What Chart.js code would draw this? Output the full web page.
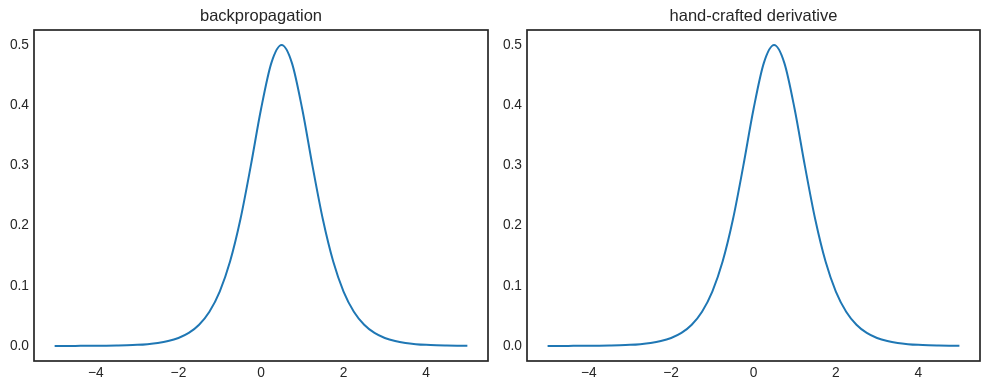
<!DOCTYPE html>
<html lang="en">
<head>
<meta charset="utf-8">
<title>backpropagation vs hand-crafted derivative</title>
<script src="https://cdn.jsdelivr.net/npm/chart.js@4.4.0/dist/chart.umd.min.js"></script>
<style>
  html, body { margin: 0; padding: 0; background: #fff; }
  #wrap { position: relative; width: 989px; height: 390px; }
  canvas { position: absolute; top: 0; }
  #left { left: 0; }
  #right { left: 494px; }
</style>
</head>
<body>
<div id="wrap">
  <canvas id="left" width="494" height="390"></canvas>
  <canvas id="right" width="495" height="390"></canvas>
</div>
<script>
  // x positions the curve was read at
  var xValues = [-5, -4.75, -4.5, -4.25, -4, -3.75, -3.5, -3.25, -3, -2.75,
    -2.5, -2.25, -2, -1.75, -1.5, -1.25, -1, -0.75, -0.5, -0.25,
    0, 0.25, 0.5, 0.75, 1, 1.25, 1.5, 1.75, 2, 2.25,
    2.5, 2.75, 3, 3.25, 3.5, 3.75, 4, 4.25, 4.5, 4.75, 5];

  var backpropValues = [0.0000, 0.0001, 0.0001, 0.0002, 0.0002, 0.0004, 0.0007, 0.0011, 0.0018, 0.0030,
    0.0049, 0.0081, 0.0133, 0.0217, 0.0353, 0.0569, 0.0904, 0.1402, 0.2100, 0.2983,
    0.3932, 0.4700, 0.5000, 0.4700, 0.3932, 0.2983, 0.2100, 0.1402, 0.0904, 0.0569,
    0.0353, 0.0217, 0.0133, 0.0081, 0.0049, 0.0030, 0.0018, 0.0011, 0.0007, 0.0004, 0.0002];

  // (looks identical)
  var handcraftedValues = [0.0000, 0.0001, 0.0001, 0.0002, 0.0002, 0.0004, 0.0007, 0.0011, 0.0018, 0.0030,
    0.0049, 0.0081, 0.0133, 0.0217, 0.0353, 0.0569, 0.0904, 0.1402, 0.2100, 0.2983,
    0.3932, 0.4700, 0.5000, 0.4700, 0.3932, 0.2983, 0.2100, 0.1402, 0.0904, 0.0569,
    0.0353, 0.0217, 0.0133, 0.0081, 0.0049, 0.0030, 0.0018, 0.0011, 0.0007, 0.0004, 0.0002];

  var xTicks = [-4, -2, 0, 2, 4];
  var yTicks = [0.0, 0.1, 0.2, 0.3, 0.4, 0.5];

  var textColor = '#262626';
  var fontFamily = '"Liberation Sans", Arial, sans-serif';

  // title + box around the plot, matplotlib style
  var framePlugin = {
    id: 'frame',
    afterDraw: function (chart, args, opts) {
      var ctx = chart.ctx, a = chart.chartArea;
      ctx.save();
      ctx.strokeStyle = textColor;
      ctx.lineWidth = 1.7;
      ctx.strokeRect(a.left, a.top, a.right - a.left, a.bottom - a.top);
      ctx.fillStyle = textColor;
      ctx.font = '16.5px ' + fontFamily;
      ctx.textAlign = 'center';
      ctx.textBaseline = 'alphabetic';
      ctx.fillText(opts.text, (a.left + a.right) / 2, a.top - 9);
      ctx.restore();
    }
  };

  function makeChart(id, title, values, yWidth, padRight) {
    var points = xValues.map(function (x, i) { return { x: x, y: values[i] }; });
    return new Chart(document.getElementById(id), {
      type: 'line',
      data: {
        datasets: [{
          data: points,
          borderColor: '#1f77b4',
          borderWidth: 2,
          pointRadius: 0,
          fill: false,
          cubicInterpolationMode: 'monotone'
        }]
      },
      options: {
        responsive: false,
        animation: false,
        layout: { padding: { top: 30, right: padRight, left: 0, bottom: 0 } },
        plugins: {
          legend: { display: false },
          tooltip: { enabled: false },
          frame: { text: title }
        },
        scales: {
          x: {
            type: 'linear',
            min: -5.5,
            max: 5.5,
            grid: { display: false, drawTicks: false },
            border: { display: false },
            afterBuildTicks: function (s) { s.ticks = xTicks.map(function (v) { return { value: v }; }); },
            afterFit: function (s) { s.height = 29; },
            ticks: {
              padding: 4,
              maxRotation: 0,
              color: textColor,
              font: { family: fontFamily, size: 13.75 },
              callback: function (v) { return v < 0 ? '\u2212' + Math.abs(v) : String(v); }
            }
          },
          y: {
            min: -0.025,
            max: 0.525,
            grid: { display: false, drawTicks: false },
            border: { display: false },
            afterBuildTicks: function (s) { s.ticks = yTicks.map(function (v) { return { value: v }; }); },
            afterFit: function (s) { s.width = yWidth; },
            ticks: {
              padding: 5,
              color: textColor,
              font: { family: fontFamily, size: 13.75 },
              callback: function (v) { return v.toFixed(1); }
            }
          }
        }
      },
      plugins: [framePlugin]
    });
  }

  makeChart('left', 'backpropagation', backpropValues, 34, 6);
  makeChart('right', 'hand-crafted derivative', handcraftedValues, 33, 9);
</script>
</body>
</html>
